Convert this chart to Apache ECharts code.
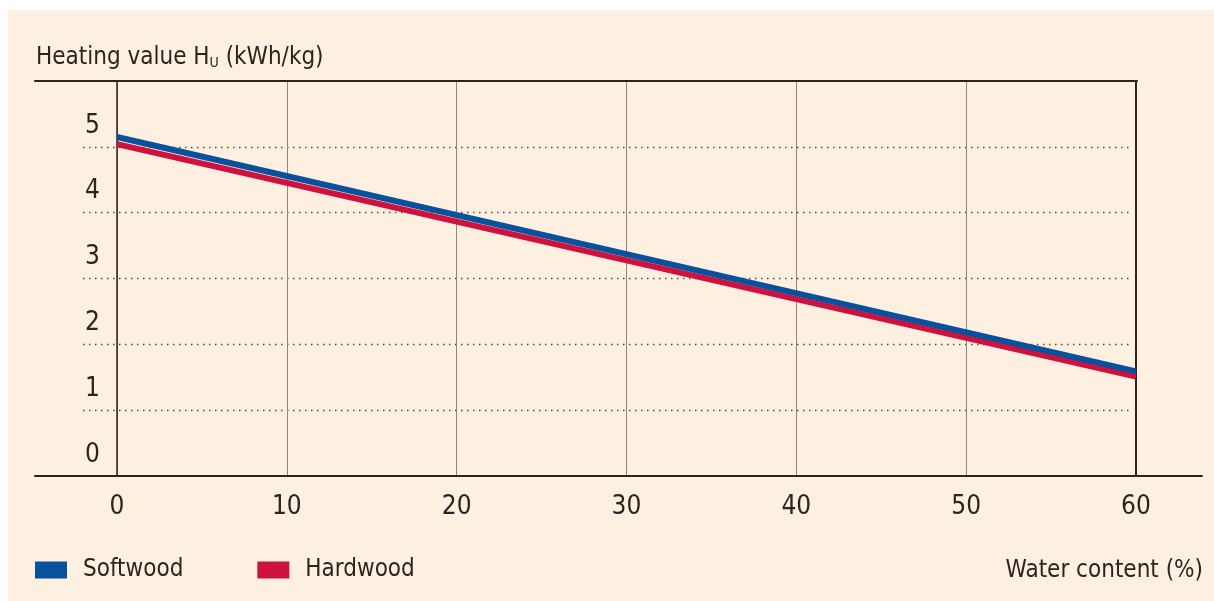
<!DOCTYPE html>
<html>
<head>
<meta charset="utf-8">
<script src="https://cdn.jsdelivr.net/npm/echarts@6/dist/echarts.min.js"></script>
<style>
  html, body { margin: 0; padding: 0; background: #ffffff; }
  #chart { position: absolute; left: 8px; top: 10px; width: 1206px; height: 591px; background: #fdf0e1; }
</style>
</head>
<body>
<div id="chart"></div>
<script>
// data
var waterContent = [0, 60];
var softwood = [5.15, 1.59];
var hardwood = [5.04, 1.51];
var seriesNames = ['Softwood', 'Hardwood'];
var seriesColors = ['#0a519d', '#cf1140'];

var font = '"DejaVu Sans Condensed", "Liberation Sans Narrow", sans-serif';
var ink = '#2b2520';

function pairs(xs, ys) {
    return xs.map(function (x, i) { return [x, ys[i]]; });
}

var chart = echarts.init(document.getElementById('chart'));

var option = {
    animation: false,
    title: [
        {
            text: 'Heating value H{sub|U} (kWh/kg)',
            left: 28, top: 36, padding: 0,
            textStyle: {
                fontFamily: font, fontSize: 24, fontWeight: 'normal', color: ink,
                rich: { sub: { fontFamily: font, fontSize: 14, color: ink, verticalAlign: 'bottom', padding: [10, 0, 0, 0] } }
            }
        },
        {
            text: 'Water content (%)',
            right: 11, top: 549, padding: 0,
            textStyle: { fontFamily: font, fontSize: 24, fontWeight: 'normal', color: ink }
        }
    ],
    legend: {
        left: 27, top: 548, padding: 0,
        itemWidth: 32, itemHeight: 17, itemGap: 74,
        textStyle: { fontFamily: font, fontSize: 24, color: ink, padding: [0, 0, 0, 11] },
        data: seriesNames.map(function (n) { return { name: n, icon: 'rect' }; })
    },
    grid: [
        // main plot
        { left: 109, right: 78, top: 71, bottom: 125 },
        // bottom axis line, wider than plot
        { left: 27, right: 12, top: 71, bottom: 125 },
        // top line
        { left: 27, right: 77, top: 71, bottom: 125 },
        // dotted lines
        { left: 75, right: 82, top: 71, bottom: 125 }
    ],
    xAxis: [
        {
            gridIndex: 0, type: 'value', min: 0, max: 60, interval: 10,
            axisLine: { show: false }, axisTick: { show: false },
            axisLabel: { fontFamily: font, fontSize: 26, color: ink, margin: 18 },
            splitLine: { show: true, lineStyle: { color: '#8d857e', width: 1 } }
        },
        {
            gridIndex: 1, type: 'value', min: 0, max: 1,
            axisLine: { show: true, onZero: false, lineStyle: { color: ink, width: 2 } },
            axisTick: { show: false }, axisLabel: { show: false }, splitLine: { show: false }
        },
        {
            gridIndex: 2, type: 'value', min: 0, max: 1, position: 'top',
            axisLine: { show: true, onZero: false, lineStyle: { color: ink, width: 2 } },
            axisTick: { show: false }, axisLabel: { show: false }, splitLine: { show: false }
        },
        {
            gridIndex: 3, type: 'value', min: 0, max: 1, show: false
        }
    ],
    yAxis: [
        {
            gridIndex: 0, type: 'value', min: 0, max: 6, interval: 1,
            axisLine: { show: true, onZero: false, lineStyle: { color: ink, width: 1.5 } },
            axisTick: { show: false },
            axisLabel: {
                fontFamily: font, fontSize: 26, color: ink, margin: 17,
                showMaxLabel: false, verticalAlign: 'bottom', lineHeight: 42
            },
            splitLine: { show: false }
        },
        {
            gridIndex: 0, type: 'value', min: 0, max: 6, position: 'right',
            axisLine: { show: true, onZero: false, lineStyle: { color: ink, width: 2 } },
            axisTick: { show: false }, axisLabel: { show: false }, splitLine: { show: false }
        },
        {
            gridIndex: 1, type: 'value', min: 0, max: 6, show: false
        },
        {
            gridIndex: 2, type: 'value', min: 0, max: 6, show: false
        },
        {
            gridIndex: 3, type: 'value', min: 0, max: 6, interval: 1,
            axisLine: { show: false }, axisTick: { show: false }, axisLabel: { show: false },
            splitLine: {
                show: true, showMinLine: false, showMaxLine: false,
                lineStyle: { color: '#4f4842', width: 1.3, type: [1.5, 4.5] }
            }
        }
    ],
    series: [
        {
            name: seriesNames[1], type: 'line', xAxisIndex: 0, yAxisIndex: 0,
            data: pairs(waterContent, hardwood), symbol: 'none',
            color: seriesColors[1], lineStyle: { width: 6, color: seriesColors[1] }
        },
        {
            name: seriesNames[0], type: 'line', xAxisIndex: 0, yAxisIndex: 0,
            data: pairs(waterContent, softwood), symbol: 'none',
            color: seriesColors[0], lineStyle: { width: 6, color: seriesColors[0] }
        }
    ]
};

chart.setOption(option);
</script>
</body>
</html>
